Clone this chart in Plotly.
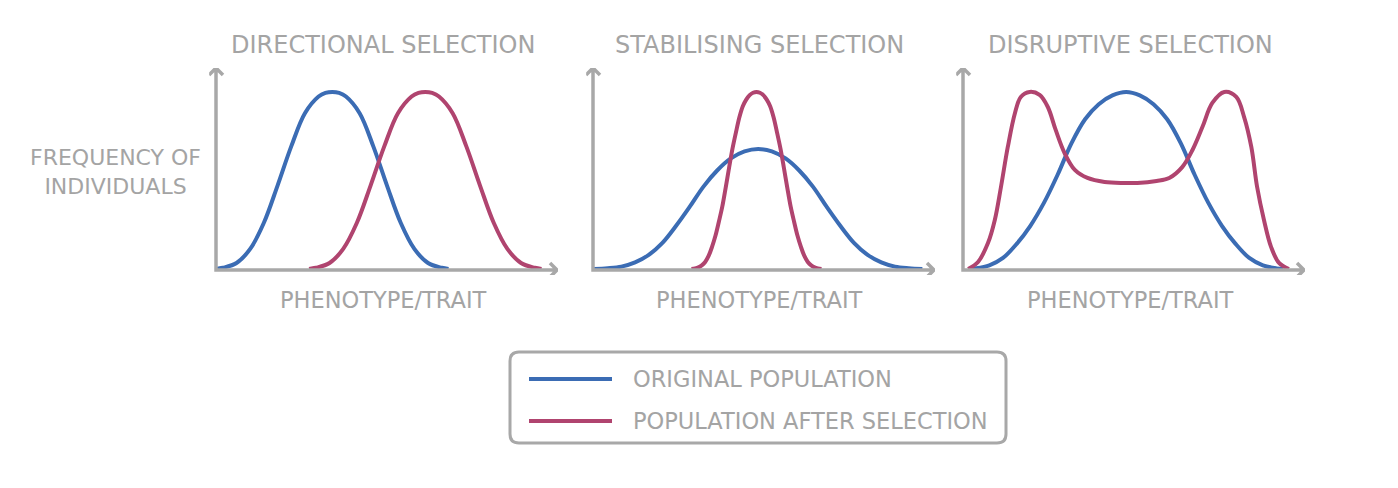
import plotly.graph_objects as go

W, H = 1398, 488

panel_titles = ["DIRECTIONAL SELECTION", "STABILISING SELECTION", "DISRUPTIVE SELECTION"]
x_label = "PHENOTYPE/TRAIT"
y_label = "FREQUENCY OF<br>INDIVIDUALS"
series_names = ["ORIGINAL POPULATION", "POPULATION AFTER SELECTION"]
series_colors = ["#3b6cb4", "#b0446f"]

# ---- data (trait position 0-100, relative frequency 0-100) ----
dir_orig_x = [0, 2, 6, 10, 14, 18, 22, 26, 30, 32, 34, 36, 38, 42, 46, 50, 54, 58, 62, 66, 68]
dir_orig_y = [0, 0.6, 3, 10, 23, 41.5, 61, 77.5, 85.8, 87.6, 88.1, 87.6, 85.8, 77.5, 61, 41.5, 23, 10, 3, 0.6, 0]
dir_after_x = [27.2, 29.2, 33.2, 37.2, 41.2, 45.2, 49.2, 53.2, 57.2, 59.2, 61.2, 63.2, 65.2, 69.2, 73.2, 77.2, 81.2, 85.2, 89.2, 93.2, 95.2]
dir_after_y = [0, 0.6, 3, 10, 23, 41.5, 61, 77.5, 85.8, 87.6, 88.1, 87.6, 85.8, 77.5, 61, 41.5, 23, 10, 3, 0.6, 0]

stab_orig_x = [0.3, 4.3, 8.3, 12.3, 16.3, 20.3, 24.3, 28.3, 32.3, 36.3, 40.3, 44.3, 48.3,
               52.3, 56.3, 60.3, 64.3, 68.3, 72.3, 76.3, 80.3, 84.3, 88.3, 92.3, 96.3]
stab_orig_y = [0, 0.4, 1.2, 3.3, 7, 13, 21.5, 31, 41, 49, 55, 58.5, 59.7,
               58.5, 55, 49, 41, 31, 21.5, 13, 7, 3.3, 1.2, 0.4, 0]
stab_after_x = [28.8, 29.8, 30.8, 31.8, 32.8, 33.8, 34.8, 35.8, 36.8, 37.8, 38.8, 39.8, 40.8, 41.8,
                42.8, 43.8, 44.8, 45.8, 46.8, 47.8, 48.8, 49.8, 50.8, 51.8, 52.8, 53.8, 54.8,
                55.8, 56.8, 57.8, 58.8, 59.8, 60.8, 61.8, 62.8, 63.8, 64.8, 65.8, 66.8]
stab_after_y = [0, 0.3, 0.8, 1.8, 3.5, 6.5, 11, 16.5, 23.5, 31, 40.5, 50.5, 60, 68,
                75.5, 81, 84.3, 86.5, 87.7, 88.1, 87.7, 86.5, 84.3, 81, 75.5, 68, 60,
                50.5, 40.5, 31, 23.5, 16.5, 11, 6.5, 3.5, 1.8, 0.8, 0.3, 0]

disr_orig_x = [1.7, 3.7, 7.7, 11.7, 15.7, 19.7, 23.7, 27.7, 31.7, 35.7, 39.7, 43.7, 47.7,
               51.7, 55.7, 59.7, 63.7, 67.7, 71.7, 75.7, 79.7, 83.7, 87.7, 91.7, 93.7]
disr_orig_y = [0, 0.3, 1.8, 5.5, 12.5, 21.5, 33, 47, 62.5, 74.5, 82, 86.4, 88.1,
               86.4, 82, 74.5, 62.5, 47, 33, 21.5, 12.5, 5.5, 1.8, 0.3, 0]
disr_after_x = [1.5, 4.4, 7.3, 9.3, 11.1, 13.1, 15.2, 16.9, 19.5, 22.4, 24.8, 27.1, 29.7, 32.7, 36.4, 41.4, 47.2,
                51.0, 56.6, 60.3, 64.1, 67.1, 70.0, 72.9, 76.4, 79.9, 82.2, 84.3, 86.0, 88.0, 90.1, 92.4, 95.3]
disr_after_y = [0.0, 3.5, 12.9, 24.4, 40.8, 60.7, 77.6, 85.6, 88.1, 86.6, 80.6, 69.2, 57.7, 49.3, 45.3, 43.3, 42.8,
                42.8, 43.8, 45.3, 50.7, 59.2, 70.6, 82.6, 88.1, 85.6, 75.6, 60.7, 40.8, 24.4, 10.9, 3.0, 0.0]

panels = [
    [(dir_orig_x, dir_orig_y), (dir_after_x, dir_after_y)],
    [(stab_orig_x, stab_orig_y), (stab_after_x, stab_after_y)],
    [(disr_orig_x, disr_orig_y), (disr_after_x, disr_after_y)],
]

# ---- layout geometry (pixels) ----
FONT = "DejaVu Sans"
TXT = "#a4a4a4"
AXC = "#a8a8a8"
origin_px = [216, 593, 963]
x_len = 342.0          # px for 100 units
y_bottom_px = 269.0    # y = 0
y_top_px = 68.0        # y = 100
xpu = x_len / 100.0
ypu = (y_bottom_px - y_top_px) / 100.0
XMIN, YMIN = -2.0, -3.0

fig = go.Figure()
layout = dict(
    width=W, height=H, margin=dict(l=0, r=0, t=0, b=0),
    paper_bgcolor="white", plot_bgcolor="rgba(0,0,0,0)",
    showlegend=False, shapes=[], annotations=[],
)

def px2px(x):
    return x / W

def py2p(y):
    return 1 - y / H

for i, (curves, title) in enumerate(zip(panels, panel_titles)):
    n = "" if i == 0 else str(i + 1)
    ox = origin_px[i]
    left = ox + XMIN * xpu
    right = ox + 100 * xpu
    bottom = y_bottom_px - YMIN * ypu
    layout["xaxis" + n] = dict(domain=[px2px(left), px2px(right)], range=[XMIN, 100],
                               visible=False, fixedrange=True, anchor="y" + n)
    layout["yaxis" + n] = dict(domain=[py2p(bottom), py2p(y_top_px)], range=[YMIN, 100],
                               visible=False, fixedrange=True, anchor="x" + n)
    for (cx, cy), name, col in zip(curves, series_names, series_colors):
        fig.add_trace(go.Scatter(x=cx, y=cy, mode="lines", name=name,
                                 line=dict(color=col, width=4, shape="spline", smoothing=1.0),
                                 xaxis="x" + n, yaxis="y" + n, hoverinfo="skip"))
    # axes with open arrowheads (pixel path anchored at origin)
    yh = y_bottom_px + 1 - y_top_px
    xl = x_len - 1
    path = (f"M0,{yh} L0,0 L{xl},0 "
            f"M-7,{yh-7} L0,{yh} L7,{yh-7} "
            f"M{xl-7},7 L{xl},0 L{xl-7},-7")
    layout["shapes"].append(dict(type="path", xref="x" + n, yref="y" + n,
                                 xsizemode="pixel", ysizemode="pixel",
                                 xanchor=0, yanchor=-0.5, path=path,
                                 line=dict(color=AXC, width=3.5)))
    cx_px = ox + 167
    layout["annotations"].append(dict(text=title, xref="paper", yref="paper",
                                      x=px2px(cx_px), y=py2p(45), showarrow=False,
                                      xanchor="center", yanchor="middle",
                                      font=dict(family=FONT, size=24, color=TXT)))
    layout["annotations"].append(dict(text=x_label, xref="paper", yref="paper",
                                      x=px2px(cx_px), y=py2p(300), showarrow=False,
                                      xanchor="center", yanchor="middle",
                                      font=dict(family=FONT, size=22.5, color=TXT)))

layout["annotations"].append(dict(text=y_label, xref="paper", yref="paper",
                                  x=px2px(115), y=py2p(172), showarrow=False,
                                  xanchor="center", yanchor="middle", align="center",
                                  font=dict(family=FONT, size=22, color=TXT)))

# ---- legend box ----
bx0, by0, bx1, by1, r = 510, 352, 1006, 443, 9
rx, ry = r / W, r / H
X0, X1 = px2px(bx0), px2px(bx1)
Y0, Y1 = py2p(by1), py2p(by0)
box = (f"M{X0+rx},{Y1} L{X1-rx},{Y1} Q{X1},{Y1} {X1},{Y1-ry} "
       f"L{X1},{Y0+ry} Q{X1},{Y0} {X1-rx},{Y0} "
       f"L{X0+rx},{Y0} Q{X0},{Y0} {X0},{Y0+ry} "
       f"L{X0},{Y1-ry} Q{X0},{Y1} {X0+rx},{Y1} Z")
layout["shapes"].append(dict(type="path", xref="paper", yref="paper", path=box,
                             line=dict(color=AXC, width=3), fillcolor="rgba(0,0,0,0)"))
for k, (name, col) in enumerate(zip(series_names, series_colors)):
    yy = 379 + 42 * k
    layout["shapes"].append(dict(type="line", xref="paper", yref="paper",
                                 x0=px2px(529), x1=px2px(612), y0=py2p(yy), y1=py2p(yy),
                                 line=dict(color=col, width=4)))
    layout["annotations"].append(dict(text=name, xref="paper", yref="paper",
                                      x=px2px(631), y=py2p(yy), showarrow=False,
                                      xanchor="left", yanchor="middle",
                                      font=dict(family=FONT, size=22.5, color=TXT)))

fig.update_layout(**layout)
fig.write_html("out.html")
